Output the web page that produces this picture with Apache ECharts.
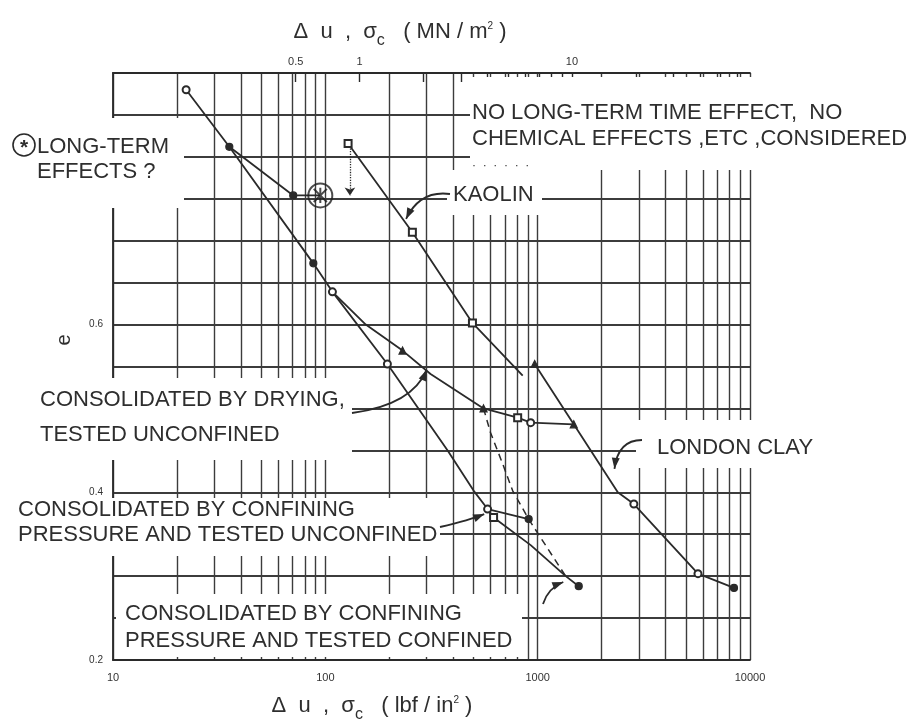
<!DOCTYPE html>
<html>
<head>
<meta charset="utf-8">
<title>Void ratio vs strength</title>
<script src="https://cdn.jsdelivr.net/npm/echarts@6/dist/echarts.min.js"></script>
<style>
  html, body { margin: 0; padding: 0; background: #fff; }
  #chart { width: 917px; height: 727px; }
</style>
</head>
<body>
<div id="chart"></div>
<script>
// Δu, σc in lbf/in² against void ratio e
const dryingStress = [22.1, 35.3, 87.8, 108, 155, 231, 313, 556, 805, 927, 1479];
const dryingE = [0.880, 0.812, 0.673, 0.639, 0.600, 0.569, 0.541, 0.500, 0.489, 0.483, 0.481];

const longTermStress = [35.3, 70.6, 94.7];
const longTermE = [0.812, 0.754, 0.754];

const unconfinedStress = [108, 196, 376, 499, 581, 907];
const unconfinedE = [0.639, 0.553, 0.450, 0.402, 0.380, 0.368];

const confinedStress = [581, 620, 927, 1356, 1561];
const confinedE = [0.380, 0.370, 0.337, 0.300, 0.288];

const dashedStress = [556, 600, 684, 762, 907, 1189, 1356];
const dashedE = [0.500, 0.471, 0.434, 0.402, 0.368, 0.322, 0.300];

const kaolinStress = [128, 257, 493, 850];
const kaolinE = [0.816, 0.710, 0.602, 0.539];

const londonStress = [968, 1479, 2384, 2838, 5688, 8405];
const londonE = [0.553, 0.481, 0.400, 0.386, 0.303, 0.286];

// tick labels
const psiLabels = [10, 100, 1000, 10000];
const mnLabels = [0.5, 1, 10];
const eLabels = [0.2, 0.4, 0.6];

// marker kinds along each curve
const dryingMarks = ['emptyCircle', 'circle', 'circle', 'emptyCircle', 'none', 'triangle', 'none', 'triangle', 'emptyRect', 'emptyCircle', 'triangle'];
const longTermMarks = ['none', 'circle', 'none'];
const unconfinedMarks = ['none', 'emptyCircle', 'none', 'none', 'emptyCircle', 'circle'];
const confinedMarks = ['none', 'emptyRect', 'none', 'none', 'circle'];
const kaolinMarks = ['emptyRect', 'emptyRect', 'emptyRect', 'none'];
const londonMarks = ['triangle', 'none', 'none', 'emptyCircle', 'emptyCircle', 'circle'];

const PSI_PER_MN = 145.04;
const FONT = "'Liberation Sans', Arial, sans-serif";
const INK = '#2a2a2a';
const GRID = '#3c3c3c';

const psiTicks = [];
[10, 100, 1000].forEach(d => { for (let k = 1; k < 10; k++) psiTicks.push(k * d); });
psiTicks.push(10000);
const mnTicks = [0.5, 1, 2, 3, 4, 5, 6, 7, 8, 9, 10, 20, 30, 40, 50, 60];

const pairs = (xs, ys) => xs.map((x, i) => [x, ys[i]]);

function curve(name, xs, ys, marks, extra) {
  return Object.assign({
    name: name,
    type: 'line',
    data: pairs(xs, ys),
    symbol: (v, p) => marks[p.dataIndex],
    symbolSize: 7,
    lineStyle: { color: INK, width: 1.8 },
    itemStyle: { color: INK, borderColor: INK, borderWidth: 1.2 },
    z: 3
  }, extra || {});
}

const chart = echarts.init(document.getElementById('chart'));

chart.setOption({
  animation: false,
  backgroundColor: '#fff',
  grid: { left: 113, right: 167, top: 73, bottom: 67 },
  xAxis: [
    {
      type: 'log', logBase: 10, min: 10, max: 10000, position: 'bottom',
      axisLine: { show: true, lineStyle: { color: INK, width: 1.8 } },
      axisTick: { show: false, customValues: psiTicks },
      axisLabel: {
        customValues: psiLabels, color: '#333', fontSize: 11, fontFamily: FONT, margin: 12,
        formatter: v => String(Math.round(v))
      },
      splitLine: { show: true, lineStyle: { color: GRID, width: 1.4 } }
    },
    {
      type: 'log', logBase: 10, min: 10 / PSI_PER_MN, max: 10000 / PSI_PER_MN, position: 'top',
      axisLine: { show: true, lineStyle: { color: INK, width: 1.8 } },
      axisTick: { show: true, inside: true, length: 9, customValues: mnTicks, lineStyle: { color: INK, width: 1.4 } },
      axisLabel: {
        customValues: mnLabels, color: '#333', fontSize: 11, fontFamily: FONT, margin: 6,
        formatter: v => (v < 1 ? v.toFixed(1) : String(Math.round(v)))
      },
      splitLine: { show: false }
    }
  ],
  yAxis: {
    type: 'value', min: 0.2, max: 0.9, interval: 0.05,
    axisLine: { show: true, lineStyle: { color: INK, width: 1.8 } },
    axisTick: { show: false },
    axisLabel: {
      color: '#333', fontSize: 10, fontFamily: FONT, margin: 10,
      formatter: v => (eLabels.some(t => Math.abs(t - v) < 1e-6) ? v.toFixed(1) : '')
    },
    splitLine: { show: true, lineStyle: { color: GRID, width: 1.8 } }
  },
  series: [
    curve('Consolidated by drying, tested unconfined', dryingStress, dryingE, dryingMarks),
    curve('Long-term effects', longTermStress, longTermE, longTermMarks),
    curve('Confining pressure, tested unconfined', unconfinedStress, unconfinedE, unconfinedMarks),
    curve('Confining pressure, tested confined', confinedStress, confinedE, confinedMarks),
    curve('Transition', dashedStress, dashedE, dashedStress.map(() => 'none'),
      { lineStyle: { color: INK, width: 1.5, type: [7, 5] } }),
    curve('Kaolin', kaolinStress, kaolinE, kaolinMarks, {
      markLine: {
        silent: true, symbol: ['none', 'arrow'], symbolSize: 8, label: { show: false },
        lineStyle: { color: INK, width: 1.3, type: 'dotted' },
        data: [[{ coord: [kaolinStress[0] * 1.02, kaolinE[0] - 0.006] }, { coord: [kaolinStress[0] * 1.02, longTermE[2]] }]]
      }
    }),
    curve('London clay', londonStress, londonE, londonMarks),
    {
      name: 'Long-term point',
      type: 'scatter',
      data: [[longTermStress[2], longTermE[2]]],
      symbol: 'path://M12,1 A11,11 0 1,1 12,23 A11,11 0 1,1 12,1 Z M6,6 L18,18 M18,6 L6,18 M12,5 L12,19',
      symbolSize: 24,
      itemStyle: { color: 'rgba(0,0,0,0)', borderColor: '#1e1e1e', borderWidth: 2 },
      z: 4
    }
  ]
});

// annotation layer: label boxes that break the grid, notes, leaders
const p = (x, e) => chart.convertToPixel({ xAxisIndex: 0, yAxisIndex: 0 }, [x, e]);

function textEl(x, y, str, size, extra) {
  return Object.assign({
    type: 'text', x: x, y: y, z: 10,
    style: { text: str, fill: '#2e2e2e', font: (size || 22) + 'px ' + FONT, textVerticalAlign: 'middle' }
  }, extra || {});
}

function maskEl(x, y, w, h) {
  return { type: 'rect', z: 1, shape: { x: x, y: y, width: w, height: h }, style: { fill: '#fff' } };
}

function leader(start, ctrl, tip) {
  const dx = tip[0] - ctrl[0], dy = tip[1] - ctrl[1];
  const len = Math.hypot(dx, dy) || 1;
  const ux = dx / len, uy = dy / len;
  const head = [
    [tip[0], tip[1]],
    [tip[0] - ux * 11 - uy * 4, tip[1] - uy * 11 + ux * 4],
    [tip[0] - ux * 11 + uy * 4, tip[1] - uy * 11 - ux * 4]
  ];
  return [
    { type: 'bezierCurve', z: 10, shape: { x1: start[0], y1: start[1], cpx1: ctrl[0], cpy1: ctrl[1], x2: tip[0], y2: tip[1] },
      style: { stroke: INK, lineWidth: 1.8, fill: null } },
    { type: 'polygon', z: 10, shape: { points: head }, style: { fill: INK } }
  ];
}

const sub = { fontSize: 16, fontFamily: FONT, fill: '#2e2e2e', verticalAlign: 'bottom', padding: [0, 0, -6, 0] };
const sup = { fontSize: 10, fontFamily: FONT, fill: '#2e2e2e', padding: [0, 0, 12, 0] };
const big = { fontSize: 22, fontFamily: FONT, fill: '#2e2e2e' };

const kaolinTip = p(240, 0.726);
const dryTip = p(300, 0.546);
const londonTip = p(2300, 0.428);
const unconfTip = p(560, 0.374);
const confTip = p(1320, 0.293);

const graphics = [
  maskEl(470, 77, 282, 93),
  maskEl(447, 170, 95, 45),
  maskEl(0, 118, 184, 90),
  maskEl(0, 378, 352, 82),
  maskEl(0, 498, 440, 58),
  maskEl(116, 594, 406, 63),
  maskEl(636, 420, 116, 48),

  // axis titles
  { type: 'text', x: 400, y: 32, z: 10,
    style: { text: '{a|Δ  u  ,  σ}{s|c}{a|   ( MN / m}{p|2}{a| )}', align: 'center', verticalAlign: 'middle',
      rich: { a: big, s: sub, p: sup } } },
  { type: 'text', x: 372, y: 706, z: 10,
    style: { text: '{a|Δ  u  ,  σ}{s|c}{a|   ( lbf / in}{p|2}{a| )}', align: 'center', verticalAlign: 'middle',
      rich: { a: big, s: sub, p: sup } } },
  textEl(64, 340, 'e', 20, { rotation: Math.PI / 2, style: { text: 'e', fill: '#2e2e2e', font: '20px ' + FONT, align: 'center', verticalAlign: 'middle' } }),

  // notes
  textEl(472, 113, 'NO LONG-TERM TIME EFFECT,  NO'),
  textEl(472, 139, 'CHEMICAL EFFECTS ,ETC ,CONSIDERED'),
  textEl(472, 166, '·  ·  ·  ·  ·  ·', 12),
  textEl(453, 195, 'KAOLIN'),
  { type: 'circle', z: 10, shape: { cx: 24, cy: 145, r: 11 }, style: { stroke: INK, lineWidth: 1.6, fill: '#fff' } },
  textEl(24, 148, '*', 20, { style: { text: '*', fill: '#2e2e2e', font: 'bold 21px ' + FONT, align: 'center', verticalAlign: 'middle' } }),
  textEl(37, 147, 'LONG-TERM'),
  textEl(37, 172, 'EFFECTS ?'),
  textEl(40, 400, 'CONSOLIDATED BY DRYING,'),
  textEl(40, 435, 'TESTED UNCONFINED'),
  textEl(18, 510, 'CONSOLIDATED BY CONFINING'),
  textEl(18, 535, 'PRESSURE AND TESTED UNCONFINED'),
  textEl(125, 614, 'CONSOLIDATED BY CONFINING'),
  textEl(125, 641, 'PRESSURE AND TESTED CONFINED'),
  textEl(657, 448, 'LONDON CLAY')
]
  .concat(leader([450, 194], [420, 190], kaolinTip))
  .concat(leader([352, 413], [412, 405], dryTip))
  .concat(leader([642, 440], [618, 440], londonTip))
  .concat(leader([440, 527], [470, 520], unconfTip))
  .concat(leader([543, 604], [548, 588], confTip));

chart.setOption({ graphic: graphics });

window.addEventListener('resize', () => chart.resize());
</script>
</body>
</html>
